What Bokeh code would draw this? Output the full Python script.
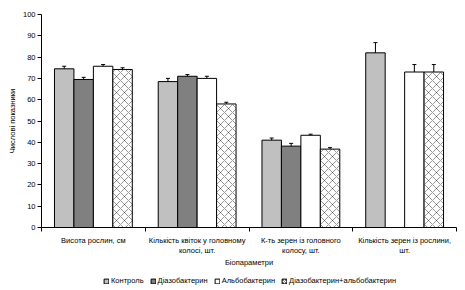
import numpy as np
from bokeh.plotting import figure
from bokeh.layouts import column
from bokeh.models import ColumnDataSource, Whisker, FixedTicker, Legend, LegendItem, Range1d, TeeHead
from bokeh.embed import file_html
from bokeh.resources import INLINE

categories = ["Висота рослин, см",
              "Кількість квіток у головному\nколосі, шт.",
              "К-ть зерен із головного\nколосу, шт.",
              "Кількість зерен із рослини,\nшт."]
series = ["Контроль", "Діазобактерин", "Альбобактерин", "Діазобактерин+альбобактерин"]
control = [74.5, 68.5, 41.0, 82.0]
control_err = [1.2, 1.5, 1.0, 4.8]
diazo = [69.5, 71.0, 38.2, np.nan]
diazo_err = [1.0, 0.8, 1.3, np.nan]
albo = [75.7, 70.0, 43.3, 73.0]
albo_err = [0.8, 1.0, 0.5, 3.5]
mix = [74.2, 58.0, 36.8, 73.0]
mix_err = [0.8, 0.8, 0.7, 3.5]
y_ticks = [0, 10, 20, 30, 40, 50, 60, 70, 80, 90, 100]

FONT = "Liberation Sans"

p = figure(width=465, height=270, output_backend="svg", toolbar_location=None,
           x_range=Range1d(0, 4), y_range=Range1d(0, 100),
           min_border_left=41, min_border_right=9, min_border_top=14, min_border_bottom=42)
p.outline_line_color = None
p.xgrid.visible = False
p.ygrid.visible = False

# legend strip below the chart
p2 = figure(width=465, height=20, output_backend="svg", toolbar_location=None,
            x_range=Range1d(0, 1), y_range=Range1d(0, 1),
            x_axis_type=None, y_axis_type=None,
            min_border_left=0, min_border_right=0, min_border_top=0, min_border_bottom=0)
p2.grid.visible = False
p2.outline_line_color = None

width = 0.1875
offsets = [-0.28125, -0.09375, 0.09375, 0.28125]
vals = [control, diazo, albo, mix]
errs = [control_err, diazo_err, albo_err, mix_err]
fills = ["#C0C0C0", "#808080", "#FFFFFF", "#FFFFFF"]
legend_renderers = []
for i in range(4):
    xs = [g + 0.5 + offsets[i] for g in range(4)]
    v = np.array(vals[i], dtype=float)
    e = np.array(errs[i], dtype=float)
    src = ColumnDataSource(dict(x=xs, top=v, upper=v + e, lower=v - e))
    kw = dict(hatch_pattern="x", hatch_scale=8, hatch_color="black", hatch_weight=0.5,
              hatch_alpha=0.8) if i == 3 else {}
    p.vbar(x="x", top="top", width=width, source=src, fill_color=fills[i],
           line_color="black", line_width=1, **kw)
    w = Whisker(base="x", upper="upper", lower="lower", source=src, line_color="black",
                line_width=1,
                upper_head=TeeHead(size=4, line_color="black", line_width=1),
                lower_head=TeeHead(size=4, line_color="black", line_width=1))
    p.add_layout(w)
    # legend proxy (same style, placed below the strip's visible range)
    kw2 = dict(hatch_pattern="x", hatch_scale=3, hatch_color="black", hatch_weight=0.5) if i == 3 else {}
    lr = p2.vbar(x=[0.5], top=[-5.0], bottom=[-6.0], width=0.1, fill_color=fills[i],
                 line_color="black", line_width=1, **kw2)
    legend_renderers.append(lr)

# axes
p.yaxis.ticker = FixedTicker(ticks=y_ticks)
p.yaxis.minor_tick_line_color = None
p.yaxis.major_tick_out = 4
p.yaxis.major_tick_in = 0
p.yaxis.major_label_text_font = FONT
p.yaxis.major_label_text_font_size = "7.5px"
p.yaxis.major_label_text_color = "black"
p.yaxis.major_label_standoff = 2
p.yaxis.axis_label = "Числові показники"
p.yaxis.axis_label_text_font = FONT
p.yaxis.axis_label_text_font_size = "7.5px"
p.yaxis.axis_label_text_font_style = "normal"
p.yaxis.axis_label_text_color = "black"
p.yaxis.axis_label_standoff = 3
p.yaxis.axis_line_color = "black"

p.xaxis.ticker = FixedTicker(ticks=[0.5, 1.5, 2.5, 3.5], minor_ticks=[0, 1, 2, 3, 4])
p.xaxis.major_label_overrides = {0.5: categories[0], 1.5: categories[1],
                                 2.5: categories[2], 3.5: categories[3]}
p.xaxis.major_tick_line_color = None
p.xaxis.minor_tick_out = 4
p.xaxis.minor_tick_in = 0
p.xaxis.major_label_text_font = FONT
p.xaxis.major_label_text_font_size = "7.5px"
p.xaxis.major_label_text_color = "black"
p.xaxis.major_label_standoff = 2
p.xaxis.axis_label = "Біопараметри"
p.xaxis.axis_label_text_font = FONT
p.xaxis.axis_label_text_font_size = "7.5px"
p.xaxis.axis_label_text_font_style = "normal"
p.xaxis.axis_label_text_color = "black"
p.xaxis.axis_label_standoff = 0

legend = Legend(items=[LegendItem(label=series[i], renderers=[legend_renderers[i]]) for i in range(4)],
                orientation="horizontal", location=(62, 5),
                label_text_font=FONT, label_text_font_size="7.5px", label_text_color="black",
                glyph_width=6, glyph_height=6, label_standoff=2, spacing=6,
                padding=2, margin=0, border_line_color=None, background_fill_alpha=0)
p2.add_layout(legend)

layout = column(p, p2, spacing=0)
open("out.html", "w").write(file_html(layout, INLINE))
